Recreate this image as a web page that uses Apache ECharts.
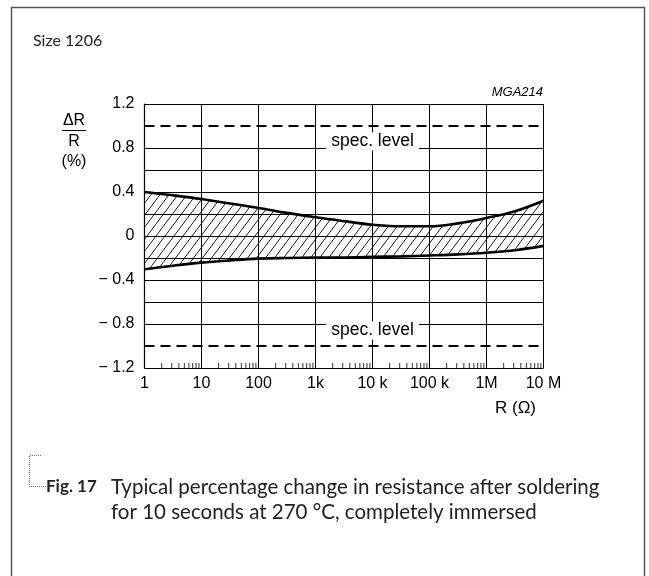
<!DOCTYPE html>
<html><head><meta charset="utf-8">
<script src="https://cdn.jsdelivr.net/npm/echarts@6/dist/echarts.min.js"></script>
<style>html,body{margin:0;padding:0;background:#fff}#c{width:649px;height:576px}</style>
</head><body><div id="c"></div>
<script>
// ---- data ----
const resistance = [1, 3.162, 10, 31.62, 100, 316.2, 1000, 3162, 1e4, 31623, 1e5, 316228, 1e6, 3162278, 1e7];
const upperPct = [0.40, 0.37, 0.336, 0.295, 0.255, 0.21, 0.17, 0.135, 0.103, 0.088, 0.088, 0.115, 0.164, 0.225, 0.32];
const lowerPct = [-0.303, -0.27, -0.242, -0.222, -0.206, -0.200, -0.197, -0.195, -0.190, -0.185, -0.177, -0.167, -0.152, -0.130, -0.090];
const specLevels = [1.0, -1.0];
const specLabelPos = [[1e4, 0.86], [1e4, -0.86]];
const xTickValues = [1, 10, 100, 1e3, 1e4, 1e5, 1e6, 1e7];
const xTickLabels = ['1', '10', '100', '1k', '10 k', '100 k', '1M', '10 M'];
const yTickValues = [-1.2, -0.8, -0.4, 0, 0.4, 0.8, 1.2];
const yTickLabels = ['\u2212 1.2', '\u2212 0.8', '\u2212 0.4', '0', '0.4', '0.8', '1.2'];
const minorDecades = [1, 10, 100, 1e3, 1e4, 1e5, 1e6];
const minorMultipliers = [2, 3, 4, 5, 6, 7, 8, 9];

// ---- derived (value first, resistance second, so stacking is on the value) ----
const lowerData = resistance.map((r, i) => [lowerPct[i], r]);
const bandData = resistance.map((r, i) => [+(upperPct[i] - lowerPct[i]).toFixed(4), r]);
const minorTicks = [];
minorDecades.forEach(d => minorMultipliers.forEach(m => minorTicks.push([d * m, -1.2])));

function hatch() {
  const w = 9, h = 12;
  const c = document.createElement('canvas'); c.width = w; c.height = h;
  const g = c.getContext('2d');
  g.strokeStyle = '#000'; g.lineWidth = 0.9;
  g.beginPath();
  g.moveTo(0, h); g.lineTo(w, 0);
  g.moveTo(-w, h); g.lineTo(0, 0);
  g.moveTo(w, h); g.lineTo(2 * w, 0);
  g.stroke();
  return c;
}

const AX = 'Liberation Sans, Arial, sans-serif';
const CAP = 'Lato, "Open Sans", sans-serif';
const chart = echarts.init(document.getElementById('c'), null, {renderer: 'canvas'});
const yColors = [];
for (let v = -1.2; v <= 1.2001; v += 0.2) yColors.push(specLevels.some(s => Math.abs(s - v) < 1e-6) ? 'rgba(0,0,0,0)' : '#000');

chart.setOption({
  animation: false,
  backgroundColor: '#fff',
  grid: {left: 144.5, right: 105.5, top: 104, bottom: 208, containLabel: false},
  xAxis: {
    type: 'log', logBase: 10, min: 1, max: 1e7,
    axisLine: {show: true, lineStyle: {color: '#000', width: 1.2}},
    axisTick: {show: false},
    splitLine: {show: true, lineStyle: {color: '#000', width: 1}},
    axisLabel: {
      color: '#000', fontSize: 16, fontFamily: AX, margin: 8,
      formatter: v => { const i = xTickValues.findIndex(t => Math.abs(Math.log10(t) - Math.log10(v)) < 1e-6); return i >= 0 ? xTickLabels[i] : ''; }
    }
  },
  yAxis: {
    type: 'value', min: -1.2, max: 1.2, interval: 0.2,
    axisLine: {show: true, lineStyle: {color: '#000', width: 1.2}},
    axisTick: {show: false},
    splitLine: {show: true, lineStyle: {color: yColors, width: 1}},
    axisLabel: {
      color: '#000', fontSize: 16, fontFamily: AX, margin: 10, interval: 1,
      formatter: v => { const i = yTickValues.findIndex(t => Math.abs(t - v) < 1e-6); return i >= 0 ? yTickLabels[i] : ''; }
    }
  },
  series: [
    {
      name: 'lower', type: 'line', data: lowerData, encode: {x: 1, y: 0}, stack: 'band', stackStrategy: 'all',
      smooth: 0.4, symbol: 'none', lineStyle: {color: '#000', width: 2.6}, z: 3, silent: true
    },
    {
      name: 'band', type: 'line', data: bandData, encode: {x: 1, y: 0}, stack: 'band', stackStrategy: 'all',
      smooth: 0.4, symbol: 'none', lineStyle: {color: '#000', width: 2.6}, z: 3, silent: true,
      areaStyle: {color: {image: hatch(), repeat: 'repeat'}, opacity: 1}
    },
    {
      name: 'spec', type: 'line', data: [], z: 4, silent: true,
      markLine: {
        silent: true, symbol: 'none', animation: false,
        label: {show: false},
        lineStyle: {color: '#000', width: 2, type: [10, 6]},
        data: specLevels.map(v => ({yAxis: v}))
      },
      markPoint: {
        silent: true, symbol: 'rect', symbolSize: 0, animation: false,
        label: {show: true, position: 'inside', formatter: 'spec. level', color: '#000', fontSize: 17.5, fontFamily: AX,
          backgroundColor: '#fff', padding: [0, 5]},
        data: specLabelPos.map(p => ({coord: p}))
      }
    },
    {
      name: 'gridfix', type: 'line', data: [], z: 5, silent: true,
      markLine: {silent: true, symbol: 'none', animation: false, label: {show: false},
        lineStyle: {color: '#000', width: 1, type: 'solid'},
        data: [{xAxis: 1e4}]}
    },
    {
      name: 'minor', type: 'scatter', data: minorTicks, symbol: 'rect', symbolSize: [1, 5],
      symbolOffset: [0, -2.5], itemStyle: {color: '#000'}, z: 5, silent: true
    }
  ],
  graphic: [
    {type: 'polyline', shape: {points: [[11.5, 576], [11.5, 7.5], [644.5, 7.5], [644.5, 576]]},
      style: {stroke: '#555', lineWidth: 1.5, fill: null}, silent: true},
    {type: 'text', x: 33, y: 41, style: {text: 'Size 1206', font: '16px ' + CAP, fill: '#222', textVerticalAlign: 'middle'}},
    {type: 'text', x: 543, y: 92, style: {text: 'MGA214', font: 'italic 13px ' + AX, fill: '#000', textAlign: 'right', textVerticalAlign: 'middle'}},
    {type: 'text', x: 74, y: 121, style: {text: '\u0394R', font: '16px ' + AX, fill: '#000', textAlign: 'center', textVerticalAlign: 'middle'}},
    {type: 'line', shape: {x1: 62, y1: 130.5, x2: 86, y2: 130.5}, style: {stroke: '#000', lineWidth: 1}},
    {type: 'text', x: 74, y: 142, style: {text: 'R', font: '16px ' + AX, fill: '#000', textAlign: 'center', textVerticalAlign: 'middle'}},
    {type: 'text', x: 74, y: 162, style: {text: '(%)', font: '16px ' + AX, fill: '#000', textAlign: 'center', textVerticalAlign: 'middle'}},
    {type: 'text', x: 536, y: 408, style: {text: 'R (\u03A9)', font: '17px ' + AX, fill: '#000', textAlign: 'right', textVerticalAlign: 'middle'}},
    {type: 'polyline', shape: {points: [[41, 455.5], [29.5, 455.5], [29.5, 486.5], [46, 486.5]]},
      style: {stroke: '#777', lineWidth: 1, lineDash: [1, 1], fill: null}},
    {type: 'text', x: 46, y: 487, style: {text: 'Fig. 17', font: 'bold 17px ' + CAP, fill: '#222', textVerticalAlign: 'middle'}},
    {type: 'text', x: 111, y: 487, style: {text: 'Typical percentage change in resistance after soldering', font: '20.5px ' + CAP, fill: '#222', textVerticalAlign: 'middle'}},
    {type: 'text', x: 111, y: 512, style: {text: 'for 10 seconds at 270 \u00B0C, completely immersed', font: '20.5px ' + CAP, fill: '#222', textVerticalAlign: 'middle'}}
  ]
});
</script></body></html>
